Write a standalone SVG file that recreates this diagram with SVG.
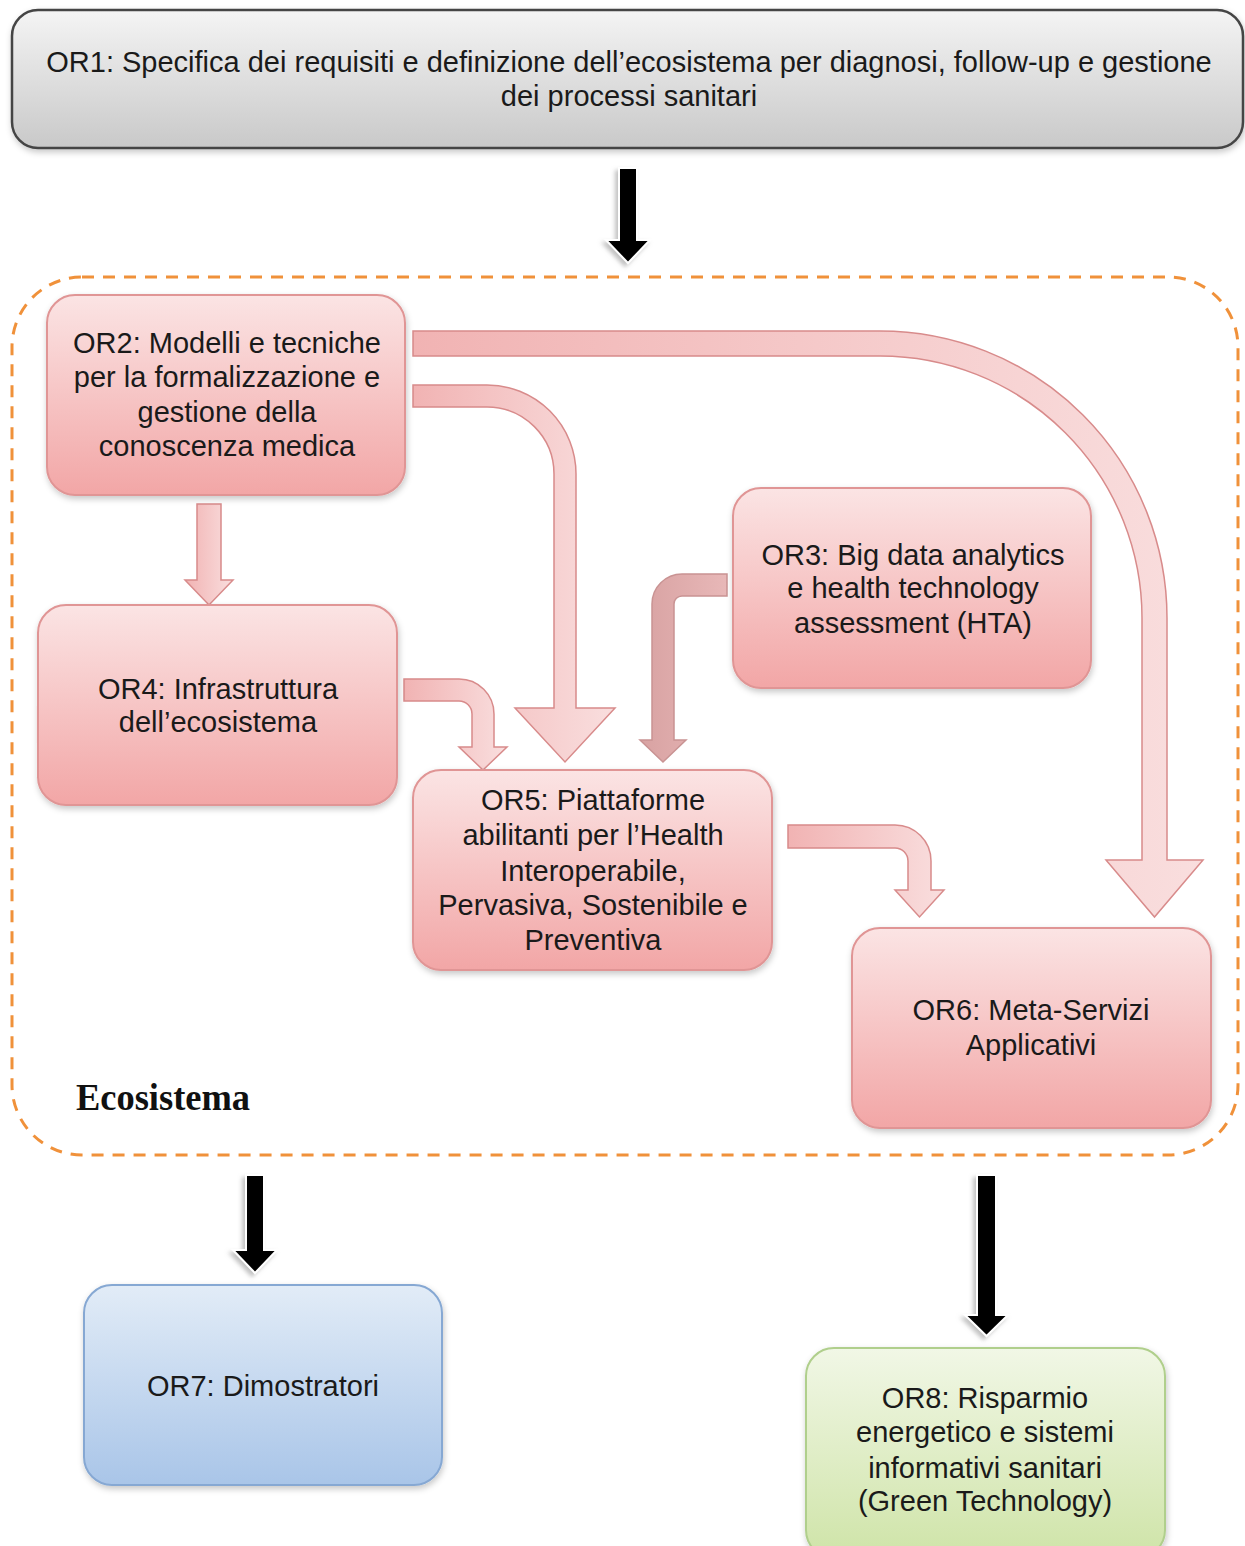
<svg xmlns="http://www.w3.org/2000/svg" width="1245" height="1546" viewBox="0 0 1245 1546">
<defs>
<linearGradient id="gGray" x1="0" y1="0" x2="0" y2="1"><stop offset="0" stop-color="#f4f4f4"/><stop offset="1" stop-color="#c9c9c9"/></linearGradient>
<linearGradient id="gPink" x1="0" y1="0" x2="0" y2="1"><stop offset="0" stop-color="#fbe4e4"/><stop offset="1" stop-color="#f2a6a6"/></linearGradient>
<linearGradient id="gBlue" x1="0" y1="0" x2="0" y2="1"><stop offset="0" stop-color="#e2ecf7"/><stop offset="1" stop-color="#a9c5e8"/></linearGradient>
<linearGradient id="gGreen" x1="0" y1="0" x2="0" y2="1"><stop offset="0" stop-color="#f1f7e6"/><stop offset="1" stop-color="#cfe4a8"/></linearGradient>
<linearGradient id="gArrow" x1="0" y1="0" x2="1" y2="0"><stop offset="0" stop-color="#f1b3b3"/><stop offset="1" stop-color="#f9dede"/></linearGradient>
<linearGradient id="gArrowD" x1="0" y1="0" x2="1" y2="0"><stop offset="0" stop-color="#d8a2a2"/><stop offset="1" stop-color="#e8b8b8"/></linearGradient>
<filter id="sh" x="-10%" y="-10%" width="120%" height="130%"><feDropShadow dx="1" dy="3" stdDeviation="3" flood-color="#000" flood-opacity="0.22"/></filter>
<filter id="bsh" x="-50%" y="-20%" width="200%" height="140%"><feDropShadow dx="-3" dy="3" stdDeviation="2" flood-color="#999" flood-opacity="0.6"/></filter>
</defs>
<style>
.t{font-family:"Liberation Sans",Arial,sans-serif;font-size:29px;fill:#1a1a1a;text-anchor:middle}
.pink{fill:url(#gPink);stroke:#e09595;stroke-width:2}
.arr{fill:url(#gArrow);stroke:#d88b8b;stroke-width:1.5}
.blk{fill:#000;stroke:#fff;stroke-width:2}
</style>
<rect width="1245" height="1546" fill="#fff"/>

<path d="M82,277 H1168 A70,70 0 0 1 1238,347 V1085 A70,70 0 0 1 1168,1155 H82 A70,70 0 0 1 12,1085 V347 A70,70 0 0 1 82,277 Z" fill="none" stroke="#f0913a" stroke-width="3" stroke-dasharray="12,9"/>
<text x="76" y="1110" font-family="Liberation Serif,serif" font-weight="bold" font-size="38" fill="#111" textLength="174" lengthAdjust="spacingAndGlyphs">Ecosistema</text>

<g id="connectors">
<path class="blk" filter="url(#bsh)" d="M619,168 H637 V240 H650 L628,263 L606,240 H619 Z"/>
<path class="blk" filter="url(#bsh)" d="M246,1175 H264 V1250 H277 L255,1273 L233,1250 H246 Z"/>
<path class="blk" filter="url(#bsh)" d="M977,1175 H996 V1315 H1008 L986.5,1336 L965,1315 H977 Z"/>
<path class="arr" d="M413,331 H880 A287,287 0 0 1 1167,618 V860 H1203 L1154.5,917 L1106,860 H1142 V618 A262,262 0 0 0 880,356 H413 Z"/>
<path class="arr" d="M413,385 H487 A89,89 0 0 1 576,474 V708 H615 L565,762 L515,708 H554 V474 A67,67 0 0 0 487,407 H413 Z"/>
<path class="arr" d="M197,504 H221 V580 H233 L209,605 L185,580 H197 Z"/>
<path class="arr" d="M404,679 H459 A35,35 0 0 1 494,714 V747 H507 L483,770 L459,747 H472 V714 A13,13 0 0 0 459,701 H404 Z"/>
<path fill="url(#gArrowD)" stroke="#c99393" stroke-width="1.5" d="M727,574 H682 A30,30 0 0 0 652,604 V740 H640 L663,762 L686,740 H674 V604 A8,8 0 0 1 682,596 H727 Z"/>
<path class="arr" d="M788,825 H895 A36,36 0 0 1 931,861 V890 H944 L919.5,917 L895,890 H908 V861 A13,13 0 0 0 895,848 H788 Z"/>
</g>

<g id="OR1">
<rect x="12" y="10" width="1231" height="138" rx="26" fill="url(#gGray)" stroke="#444" stroke-width="2.5" filter="url(#sh)"/>
<text class="t" x="629" y="72">OR1: Specifica dei requisiti e definizione dell’ecosistema per diagnosi, follow-up e gestione</text>
<text class="t" x="629" y="106">dei processi sanitari</text>
</g>
<g id="OR2">
<rect class="pink" x="47" y="295" width="358" height="200" rx="28" filter="url(#sh)"/>
<text class="t" x="227" y="353">OR2: Modelli e tecniche</text>
<text class="t" x="227" y="387">per la formalizzazione e</text>
<text class="t" x="227" y="422">gestione della</text>
<text class="t" x="227" y="456">conoscenza medica</text>
</g>
<g id="OR3">
<rect class="pink" x="733" y="488" width="358" height="200" rx="28" filter="url(#sh)"/>
<text class="t" x="913" y="565">OR3: Big data analytics</text>
<text class="t" x="913" y="598">e health technology</text>
<text class="t" x="913" y="633">assessment (HTA)</text>
</g>
<g id="OR4">
<rect class="pink" x="38" y="605" width="359" height="200" rx="28" filter="url(#sh)"/>
<text class="t" x="218" y="699">OR4: Infrastruttura</text>
<text class="t" x="218" y="732">dell’ecosistema</text>
</g>
<g id="OR5">
<rect class="pink" x="413" y="770" width="359" height="200" rx="28" filter="url(#sh)"/>
<text class="t" x="593" y="810">OR5: Piattaforme</text>
<text class="t" x="593" y="845">abilitanti per l’Health</text>
<text class="t" x="593" y="881">Interoperabile,</text>
<text class="t" x="593" y="915">Pervasiva, Sostenibile e</text>
<text class="t" x="593" y="950">Preventiva</text>
</g>
<g id="OR6">
<rect class="pink" x="852" y="928" width="359" height="200" rx="28" filter="url(#sh)"/>
<text class="t" x="1031" y="1020">OR6: Meta-Servizi</text>
<text class="t" x="1031" y="1055">Applicativi</text>
</g>
<g id="OR7">
<rect x="84" y="1285" width="358" height="200" rx="28" fill="url(#gBlue)" stroke="#86a8d3" stroke-width="2" filter="url(#sh)"/>
<text class="t" x="263" y="1396">OR7: Dimostratori</text>
</g>
<g id="OR8">
<rect x="806" y="1348" width="359" height="210" rx="28" fill="url(#gGreen)" stroke="#b0cf8c" stroke-width="2" filter="url(#sh)"/>
<text class="t" x="985" y="1408">OR8: Risparmio</text>
<text class="t" x="985" y="1442">energetico e sistemi</text>
<text class="t" x="985" y="1478">informativi sanitari</text>
<text class="t" x="985" y="1511">(Green Technology)</text>
</g>
</svg>
